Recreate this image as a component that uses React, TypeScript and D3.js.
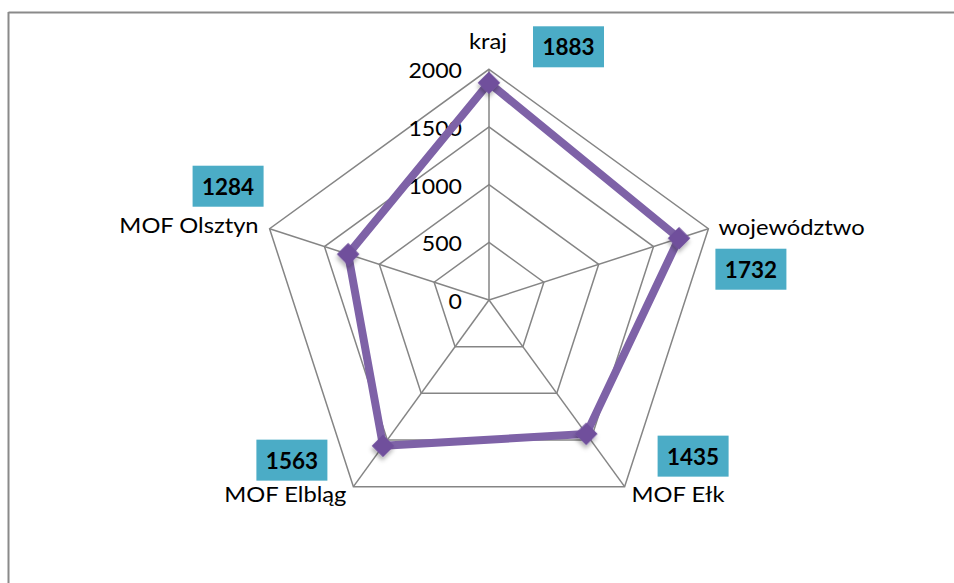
import React from "react";
import * as d3 from "d3";

const categories = ["kraj", "województwo", "MOF Ełk", "MOF Elbląg", "MOF Olsztyn"];
const values = [1883, 1732, 1435, 1563, 1284];
const ticks = [0, 500, 1000, 1500, 2000];

const W = 954;
const H = 583;
const cx = 489;
const cy = 300;
const R = 230.7;
const maxV = 2000;

// layout offsets relative to each outer vertex (label: dx, dy, anchor; box: dx, dy)
const labelLayout = [
  { dx: -1, dy: -20, anchor: "middle", bx: 44, by: -43 },
  { dx: 10, dy: 6, anchor: "start", bx: 7, by: 20 },
  { dx: 7, dy: 15, anchor: "start", bx: 33, by: -51 },
  { dx: -7, dy: 15, anchor: "end", bx: -97, by: -47 },
  { dx: -11, dy: 4, anchor: "end", bx: -77, by: -63 },
];

const font = "Lato, Calibri, sans-serif";

function T(props: {
  x: number;
  y: number;
  anchor?: string;
  size: number;
  sx: number;
  bold?: boolean;
  children: React.ReactNode;
}) {
  return (
    <text
      transform={`translate(${props.x},${props.y}) scale(${props.sx},1)`}
      textAnchor={(props.anchor || "start") as any}
      fontFamily={font}
      fontWeight={props.bold ? "bold" : "normal"}
      fontSize={props.size}
      fill="#000"
    >
      {props.children}
    </text>
  );
}

export default function App() {
  const r = d3.scaleLinear().domain([0, maxV]).range([0, R]);
  const n = categories.length;
  const angle = (i: number) => (i * 2 * Math.PI) / n;
  const pt = (i: number, v: number): [number, number] => [
    cx + r(v) * Math.sin(angle(i)),
    cy - r(v) * Math.cos(angle(i)),
  ];
  const closed = d3.line().curve(d3.curveLinearClosed);
  const gridColor = "#858585";

  return (
    <svg
      width={W}
      height={H}
      style={{ position: "absolute", left: 0, top: 0, background: "#fff" }}
    >
      <defs>
        <filter id="sh" x="-50%" y="-50%" width="200%" height="200%">
          <feDropShadow dx="2" dy="3" stdDeviation="2" floodColor="#000" floodOpacity="0.3" />
        </filter>
      </defs>
      {/* frame */}
      <line x1={8.5} y1={12.5} x2={W} y2={12.5} stroke="#8a8a8a" strokeWidth={2} />
      <line x1={8.5} y1={12} x2={8.5} y2={H} stroke="#8a8a8a" strokeWidth={2} />

      {/* rings */}
      {ticks.slice(1).map((t) => (
        <path
          key={t}
          d={closed(categories.map((_, i) => pt(i, t))) || ""}
          fill="none"
          stroke={gridColor}
          strokeWidth={1.5}
        />
      ))}
      {/* spokes */}
      {categories.map((c, i) => {
        const [x, y] = pt(i, maxV);
        return <line key={c} x1={cx} y1={cy} x2={x} y2={y} stroke={gridColor} strokeWidth={1.5} />;
      })}

      {/* tick labels */}
      {ticks.map((t) => (
        <T key={t} x={cx - 27} y={cy - r(t) + 9} anchor="end" size={21} sx={1.1}>
          {t}
        </T>
      ))}

      {/* series */}
      <path
        d={closed(values.map((v, i) => pt(i, v))) || ""}
        fill="none"
        stroke="#7E62A7"
        strokeWidth={8}
        strokeLinejoin="miter"
      />
      {values.map((v, i) => {
        const [x, y] = pt(i, v);
        return (
          <rect
            key={i}
            x={x - 8}
            y={y - 8}
            width={16}
            height={16}
            fill="#6F4F9C"
            filter="url(#sh)"
            transform={`rotate(45 ${x} ${y})`}
          />
        );
      })}

      {/* category labels and value boxes */}
      {categories.map((c, i) => {
        const [x, y] = pt(i, maxV);
        const L = labelLayout[i];
        return (
          <g key={c}>
            <T x={x + L.dx} y={y + L.dy} anchor={L.anchor} size={21} sx={1.13}>
              {c}
            </T>
            <rect x={x + L.bx} y={y + L.by} width={71} height={41} fill="#4BACC6" />
            <T x={x + L.bx + 35.5} y={y + L.by + 29} anchor="middle" size={22} sx={1.02} bold>
              {values[i]}
            </T>
          </g>
        );
      })}
    </svg>
  );
}
